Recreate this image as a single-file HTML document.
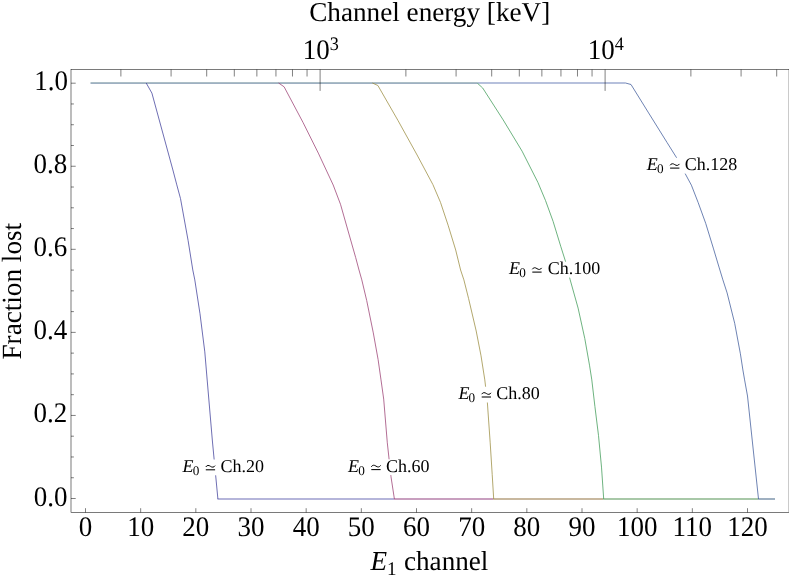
<!DOCTYPE html>
<html><head><meta charset="utf-8"><title>Fraction lost</title>
<style>html,body{margin:0;padding:0;background:#fff}svg{display:block;will-change:transform}text{font-family:"Liberation Serif",serif;fill:#000;text-rendering:geometricPrecision}</style></head>
<body>
<svg width="789" height="577" viewBox="0 0 789 577">
<rect width="789" height="577" fill="#fff"/>
<rect x="90.50" y="82" width="386.70" height="1" fill="#acbec6"/>
<rect x="90.50" y="83" width="386.70" height="1" fill="#9eb0c2"/>
<rect x="477.20" y="82" width="148.30" height="2" fill="#b6c0dc"/>
<rect x="217.50" y="498" width="176.90" height="2" fill="#b5b5da"/>
<rect x="394.00" y="498" width="99.70" height="2" fill="#c89fbf"/>
<rect x="493.30" y="498" width="110.40" height="2" fill="#c8b89f"/>
<rect x="603.30" y="498" width="155.20" height="2" fill="#a8c8a8"/>
<rect x="758.10" y="498" width="16.90" height="2" fill="#9fb0c1"/>
<g fill="none" stroke-width="0.75" stroke-linejoin="round">
<path d="M146.20,83.00 L151.90,93.10 L172.90,170.00 L176.80,184.90 L180.50,198.60 L188.10,240.50 L192.80,270.00 L194.80,279.90 L200.00,313.80 L204.80,351.90 L207.00,378.00 L212.40,441.00 L217.90,499.00" stroke="#3D3D99"/>
<path d="M278.60,83.00 L284.10,86.80 L303.10,122.60 L318.30,153.10 L333.20,185.00 L340.50,204.30 L348.10,231.00 L355.70,257.60 L359.00,270.00 L361.80,279.90 L366.70,300.50 L373.30,332.90 L378.10,359.50 L381.00,379.90 L383.70,399.10 L387.30,442.80 L391.00,476.80 L394.40,499.00" stroke="#993D71"/>
<path d="M372.40,83.00 L377.90,85.50 L398.10,120.70 L417.10,155.00 L432.90,184.60 L440.50,202.40 L448.10,225.20 L455.70,250.00 L460.60,270.00 L463.90,279.90 L468.60,298.60 L476.20,331.00 L481.00,355.70 L484.80,379.90 L487.30,401.60 L490.20,442.80 L492.20,474.40 L493.70,499.00" stroke="#998B3D"/>
<path d="M477.20,83.00 L482.70,88.00 L503.10,119.80 L522.10,151.20 L537.90,182.40 L545.50,200.50 L553.10,221.40 L560.70,246.20 L565.50,261.40 L570.20,279.90 L578.10,308.10 L584.80,338.60 L589.50,365.20 L591.80,379.90 L594.90,406.40 L598.50,435.50 L601.50,467.10 L603.70,499.00" stroke="#3D9956"/>
<path d="M625.50,83.00 L631.00,84.50 L648.10,112.10 L667.10,142.60 L676.70,157.90 L691.40,185.20 L698.10,202.40 L705.70,223.30 L713.30,248.10 L719.00,267.10 L722.90,279.90 L727.10,292.90 L734.70,323.30 L740.40,353.80 L742.90,370.00 L744.60,379.90 L747.50,396.00 L758.50,499.00" stroke="#3D5A99"/>
</g>
<rect x="71.0" y="69.5" width="718.05" height="443.0" stroke="#000" stroke-width="0.52" fill="none"/>
<path d="M85.50,512.5V508.2M140.67,512.5V508.2M195.83,512.5V508.2M251.00,512.5V508.2M306.17,512.5V508.2M361.33,512.5V508.2M416.50,512.5V508.2M471.67,512.5V508.2M526.83,512.5V508.2M582.00,512.5V508.2M637.17,512.5V508.2M692.33,512.5V508.2M747.50,512.5V508.2M71.0,498.50H75.7M71.0,477.74H73.9M71.0,456.97H73.9M71.0,436.20H73.9M71.0,415.44H75.7M71.0,394.68H73.9M71.0,373.91H73.9M71.0,353.14H73.9M71.0,332.38H75.7M71.0,311.62H73.9M71.0,290.85H73.9M71.0,270.08H73.9M71.0,249.32H75.7M71.0,228.56H73.9M71.0,207.79H73.9M71.0,187.02H73.9M71.0,166.26H75.7M71.0,145.50H73.9M71.0,124.73H73.9M71.0,103.96H73.9M71.0,83.20H75.7M120.89,69.5V76.5M171.08,69.5V76.5M206.69,69.5V76.5M234.31,69.5V76.5M256.87,69.5V76.5M275.95,69.5V76.5M292.48,69.5V76.5M307.06,69.5V76.5M320.10,69.5V90.9M405.89,69.5V76.5M456.08,69.5V76.5M491.69,69.5V76.5M519.31,69.5V76.5M541.87,69.5V76.5M560.95,69.5V76.5M577.48,69.5V76.5M592.06,69.5V76.5M605.10,69.5V90.9M690.89,69.5V76.5M741.08,69.5V76.5M776.69,69.5V76.5" stroke="#000" stroke-width="0.5" fill="none"/>
<text transform="translate(85.50,536.4) scale(1.0,1.05)" font-size="27.0" text-anchor="middle">0</text>
<text transform="translate(140.67,536.4) scale(1.0,1.05)" font-size="27.0" text-anchor="middle">10</text>
<text transform="translate(195.83,536.4) scale(1.0,1.05)" font-size="27.0" text-anchor="middle">20</text>
<text transform="translate(251.00,536.4) scale(1.0,1.05)" font-size="27.0" text-anchor="middle">30</text>
<text transform="translate(306.17,536.4) scale(1.0,1.05)" font-size="27.0" text-anchor="middle">40</text>
<text transform="translate(361.33,536.4) scale(1.0,1.05)" font-size="27.0" text-anchor="middle">50</text>
<text transform="translate(416.50,536.4) scale(1.0,1.05)" font-size="27.0" text-anchor="middle">60</text>
<text transform="translate(471.67,536.4) scale(1.0,1.05)" font-size="27.0" text-anchor="middle">70</text>
<text transform="translate(526.83,536.4) scale(1.0,1.05)" font-size="27.0" text-anchor="middle">80</text>
<text transform="translate(582.00,536.4) scale(1.0,1.05)" font-size="27.0" text-anchor="middle">90</text>
<text transform="translate(637.17,536.4) scale(1.0,1.05)" font-size="27.0" text-anchor="middle">100</text>
<text transform="translate(692.33,536.4) scale(1.0,1.05)" font-size="27.0" text-anchor="middle">110</text>
<text transform="translate(747.50,536.4) scale(1.0,1.05)" font-size="27.0" text-anchor="middle">120</text>
<text transform="translate(67.60,506.00) scale(1.0,1.05)" font-size="27.0" text-anchor="end">0.0</text>
<text transform="translate(67.30,422.40) scale(1.0,1.05)" font-size="27.0" text-anchor="end">0.2</text>
<text transform="translate(67.30,339.20) scale(1.0,1.05)" font-size="27.0" text-anchor="end">0.4</text>
<text transform="translate(67.30,256.00) scale(1.0,1.05)" font-size="27.0" text-anchor="end">0.6</text>
<text transform="translate(67.30,172.80) scale(1.0,1.05)" font-size="27.0" text-anchor="end">0.8</text>
<text transform="translate(67.90,90.40) scale(1.0,1.05)" font-size="27.0" text-anchor="end">1.0</text>
<text transform="translate(320.8,59.0) scale(1.0,1.05)" font-size="27.0" text-anchor="middle">10<tspan font-size="18.2" dy="-9.0">3</tspan></text>
<text transform="translate(605.8,59.0) scale(1.0,1.05)" font-size="27.0" text-anchor="middle">10<tspan font-size="18.2" dy="-9.0">4</tspan></text>
<text transform="translate(429.7,20.8) scale(1.007,1.01)" font-size="27.0" text-anchor="middle">Channel energy [keV]</text>
<text transform="translate(429.4,569.8) scale(1.005,1.015)" font-size="27.0" text-anchor="middle"><tspan font-style="italic">E</tspan><tspan font-size="19" dy="5.1">1</tspan><tspan dy="-5.1" dx="0.6"> channel</tspan></text>
<text font-size="27.2" text-anchor="middle" transform="translate(20.6,291.2) rotate(-90) scale(1,1.02)">Fraction lost</text>
<rect x="181.5" y="459.5" width="83.5" height="15.8" fill="#fff"/>
<text x="182.5" y="472.1" font-size="18.0"><tspan font-style="italic">E</tspan><tspan font-size="13.2" dx="-0.8" dy="2.7">0</tspan></text>
<g stroke="#000" fill="none"><path stroke-width="1.0" d="M205.80,467.00C206.92,464.97 208.87,465.13 210.45,466.30S213.98,467.63 215.10,465.60"/><path stroke-width="1.05" d="M205.80,469.80h9.3"/></g>
<text x="220.4" y="472.1" font-size="18.0">Ch.20</text>
<rect x="347.0" y="459.3" width="83.8" height="15.8" fill="#fff"/>
<text x="348.0" y="471.9" font-size="18.0"><tspan font-style="italic">E</tspan><tspan font-size="13.2" dx="-0.8" dy="2.7">0</tspan></text>
<g stroke="#000" fill="none"><path stroke-width="1.0" d="M371.30,466.80C372.42,464.77 374.37,464.93 375.95,466.10S379.48,467.43 380.60,465.40"/><path stroke-width="1.05" d="M371.30,469.60h9.3"/></g>
<text x="385.9" y="471.9" font-size="18.0">Ch.60</text>
<rect x="457.4" y="386.7" width="83.8" height="15.8" fill="#fff"/>
<text x="458.4" y="399.3" font-size="18.0"><tspan font-style="italic">E</tspan><tspan font-size="13.2" dx="-0.8" dy="2.7">0</tspan></text>
<g stroke="#000" fill="none"><path stroke-width="1.0" d="M481.70,394.20C482.82,392.17 484.77,392.33 486.35,393.50S489.88,394.83 491.00,392.80"/><path stroke-width="1.05" d="M481.70,397.00h9.3"/></g>
<text x="496.29999999999995" y="399.3" font-size="18.0">Ch.80</text>
<rect x="508.0" y="261.8" width="92.2" height="15.8" fill="#fff"/>
<text x="509.0" y="274.4" font-size="18.0"><tspan font-style="italic">E</tspan><tspan font-size="13.2" dx="-0.8" dy="2.7">0</tspan></text>
<g stroke="#000" fill="none"><path stroke-width="1.0" d="M532.30,269.30C533.42,267.27 535.37,267.43 536.95,268.60S540.48,269.93 541.60,267.90"/><path stroke-width="1.05" d="M532.30,272.10h9.3"/></g>
<text x="547.7" y="274.4" font-size="18.0">Ch.100</text>
<rect x="645.8" y="157.8" width="92.1" height="15.8" fill="#fff"/>
<text x="646.8" y="170.4" font-size="18.0"><tspan font-style="italic">E</tspan><tspan font-size="13.2" dx="-0.8" dy="2.7">0</tspan></text>
<g stroke="#000" fill="none"><path stroke-width="1.0" d="M670.10,165.30C671.22,163.27 673.17,163.43 674.75,164.60S678.28,165.93 679.40,163.90"/><path stroke-width="1.05" d="M670.10,168.10h9.3"/></g>
<text x="684.6999999999999" y="170.4" font-size="18.0">Ch.128</text>
</svg></body></html>
